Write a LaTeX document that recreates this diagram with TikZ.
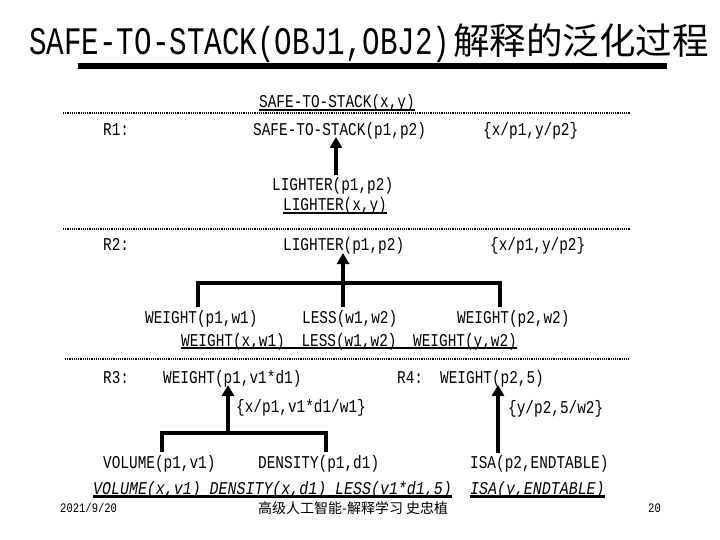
\documentclass[tikz,border=0pt]{standalone}
\usepackage{fontspec}
\usetikzlibrary{arrows.meta,calc}
\newfontfamily\mono[FakeStretch=0.8]{Liberation Mono}
\newfontfamily\monoita[FakeStretch=0.83]{Liberation Mono}
\newfontfamily\titlelat[FakeStretch=0.75]{Liberation Mono}
\newfontfamily\footmono[FakeStretch=0.81]{Liberation Mono}
\newfontfamily\cjk{Noto Sans CJK SC}
\tikzset{
  txt/.style={anchor=base west, inner sep=0pt, font=\mono\fontsize{18}{20}\selectfont},
  itx/.style={anchor=base west, inner sep=0pt, font=\monoita\itshape\fontsize{18}{20}\selectfont},
  foottxt/.style={anchor=base west, inner sep=0pt, font=\footmono\fontsize{13}{15}\selectfont},
  uline/.style={line width=2pt},
  itline/.style={line width=3pt},
  dotline/.style={line width=2.5pt, dash pattern=on 1.2pt off 1pt},
  bigarrow/.style={line width=4pt, -{Triangle[width=12pt,length=11pt]}},
  bracket/.style={line width=4pt}
}
\begin{document}
\begin{tikzpicture}[x=1pt,y=-1pt]
\useasboundingbox (0,0) rectangle (720,540);
% title
\node[anchor=base west, inner sep=0pt] (title) at (29,55)
  {{\titlelat\fontsize{39}{42}\selectfont SAFE-TO-STACK(OBJ1,OBJ2)}\hspace{3pt}{\cjk\fontsize{36.5}{42}\selectfont 解释的泛化过程}};
\fill (78,63) rectangle (667,69);
% R1
\node[txt] (sxy) at (259,108) {SAFE-TO-STACK(x,y)};
\draw[uline] ([yshift=-2pt]sxy.base west) -- ([yshift=-2pt]sxy.base east);
\draw[dotline] (63,113) -- (630,113);
\node[txt] (r1) at (103,136) {R1:};
\node[txt] (s1) at (253,136) {SAFE-TO-STACK(p1,p2)};
\node[txt] (sub1) at (483,136) {\{x/p1,y/p2\}};
\node[txt] (l1) at (272,191) {LIGHTER(p1,p2)};
\node[txt] (lxy) at (283,211) {LIGHTER(x,y)};
\draw[uline] ([yshift=-2pt]lxy.base west) -- ([yshift=-2pt]lxy.base east);
\coordinate (a1) at (336,175);
\draw[bigarrow] (a1) -- ([yshift=-1pt]a1 |- s1.base);
% R2
\draw[dotline] (63,229) -- (630,229);
\node[txt] (r2) at (103,251) {R2:};
\node[txt] (l2) at (283,251) {LIGHTER(p1,p2)};
\node[txt] (sub2) at (490,251) {\{x/p1,y/p2\}};
\node[txt] (w1) at (145,323) {WEIGHT(p1,w1)};
\node[txt] (ls) at (302,323) {LESS(w1,w2)};
\node[txt] (w2) at (457,323) {WEIGHT(p2,w2)};
\coordinate (bl) at (198,283);
\coordinate (bm) at (343,283);
\coordinate (br) at (500,283);
\draw[bracket] ($(bl |- w1.north)+(0,-3)$) -- (bl) -- (br) -- ($(br |- w2.north)+(0,-3)$);
\draw[bigarrow] ($(bm |- ls.north)+(0,-3)$) -- ([yshift=-2pt]bm |- l2.base);
\node[txt] (wu) at (181,346) {WEIGHT(x,w1)\hspace{8pt} LESS(w1,w2)\hspace{8pt} WEIGHT(y,w2)};
\draw[uline] ([yshift=-2pt]wu.base west) -- ([yshift=-2pt]wu.base east);
% R3 R4
\draw[dotline] (65,359) -- (630,359);
\node[txt] (r3) at (103,383) {R3:};
\node[txt] (w3) at (163,383) {WEIGHT(p1,v1*d1)};
\node[txt] (r4) at (397,383) {R4:};
\node[txt] (w4) at (440,383) {WEIGHT(p2,5)};
\node[txt] (sub3) at (236,412) {\{x/p1,v1*d1/w1\}};
\node[txt] (sub4) at (508,413) {\{y/p2,5/w2\}};
\node[txt] (vol) at (103,468) {VOLUME(p1,v1)};
\node[txt] (den) at (258,468) {DENSITY(p1,d1)};
\node[txt] (isa) at (470,468) {ISA(p2,ENDTABLE)};
\coordinate (vl) at (162,433);
\coordinate (vm) at (228,433);
\coordinate (vr) at (326,433);
\draw[bracket] ($(vl |- vol.north)+(0,-3)$) -- (vl) -- (vr) -- ($(vr |- den.north)+(0,-3)$);
\draw[bigarrow] (vm) -- ([yshift=-2pt]vm |- w3.base);
\coordinate (ia) at (498,0);
\draw[bigarrow] ($(ia |- isa.north)+(0,-2)$) -- ([yshift=-2pt]ia |- w4.base);
\node[itx] (it1) at (93,494) {VOLUME(x,v1) DENSITY(x,d1) LESS(v1*d1,5)};
\node[itx] (it2) at (470,494) {ISA(y,ENDTABLE)};
\draw[itline] ([yshift=-2pt]it1.base west) -- ([yshift=-2pt]it1.base east);
\draw[itline] ([yshift=-2pt]it2.base west) -- ([yshift=-2pt]it2.base east);
% footer
\node[foottxt] (date) at (60,512) {2021/9/20};
\node[anchor=base west, inner sep=0pt, font=\cjk\fontsize{14}{15}\selectfont] (foot) at (258,513) {高级人工智能-解释学习 史忠植};
\node[foottxt] (page) at (648,512) {20};
\end{tikzpicture}
\end{document}
